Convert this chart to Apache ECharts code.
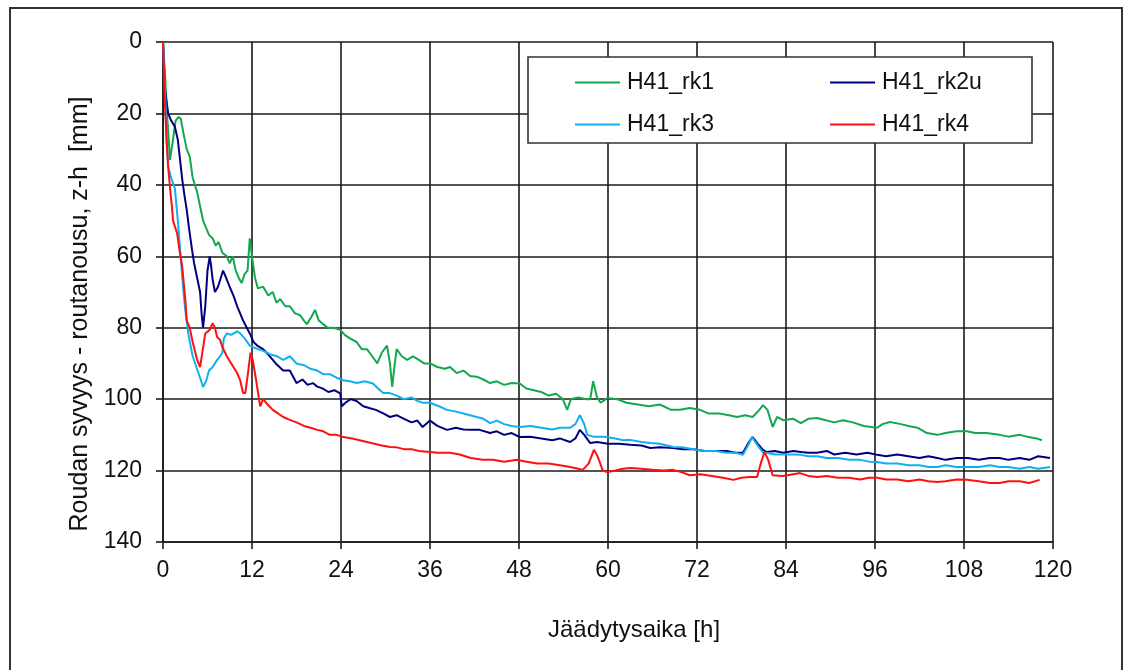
<!DOCTYPE html>
<html>
<head>
<meta charset="utf-8">
<script src="https://cdn.jsdelivr.net/npm/echarts@6/dist/echarts.min.js"></script>
<style>
html,body{margin:0;padding:0;background:#fff;}
#chart{width:1133px;height:670px;}
</style>
</head>
<body>
<div id="chart"></div>
<script>
const seriesNames = ['H41_rk1', 'H41_rk2u', 'H41_rk3', 'H41_rk4'];
const xTicks = [0, 12, 24, 36, 48, 60, 72, 84, 96, 108, 120];
const yTicks = [0, 20, 40, 60, 80, 100, 120, 140];

const rk1 = [[0,0],[0.3,10],[0.6,22],[0.95,33],[1.3,28],[1.7,22],[2.1,21],[2.4,21.5],[2.8,26],[3.2,30],[3.6,32],[4.0,38],[4.3,40],[4.6,42],[5.0,46],[5.4,50],[5.8,52],[6.2,54],[6.7,55],[7.1,57],[7.5,56],[8.0,59],[8.6,60],[9.0,62],[9.4,60],[9.8,64],[10.2,66],[10.6,67.5],[11.0,65],[11.4,64],[11.7,55],[12.0,60],[12.4,66],[12.8,69],[13.5,68.5],[14.2,71],[14.8,70],[15.3,73],[15.8,72],[16.5,74],[17.1,74],[17.8,76],[18.5,76.5],[19.0,78],[19.4,79],[20.0,77],[20.5,75],[21.0,78],[21.6,79],[22.2,80],[23.0,80],[23.9,80.6],[24.5,82],[25.2,83],[26.1,84],[26.8,86],[27.5,86],[28.2,88],[28.9,90],[29.5,87],[30.2,85],[30.6,90],[30.9,96.6],[31.2,91],[31.5,86],[32.2,88],[32.9,89],[33.7,88],[34.5,89],[35.2,90],[36,90],[37,91],[38,91.5],[38.7,91],[39.6,92.7],[40.5,92],[41.4,93.5],[42.3,93.7],[43.2,94.5],[44.1,95.5],[45,95],[46,96],[47,95.5],[48.1,95.6],[49,97],[50,97.5],[51,98],[52,99],[53,98.5],[53.9,100],[54.5,103],[55,100],[56,99.5],[57,100],[57.6,100],[58,95],[58.5,99.4],[59,101],[59.9,99.7],[61.2,100],[62.5,101],[64,101.5],[65.5,102],[67,101.5],[68.5,103],[69.7,103],[71,102.5],[72.4,103],[73.5,104],[75,104],[76.3,104.5],[77.4,105],[78.5,104.5],[79.5,105],[80.4,103],[80.9,101.7],[81.5,103],[82.2,107.8],[82.8,105],[83.6,105.9],[85,105.5],[86,106.7],[87,105.5],[88.2,105.3],[89.5,106],[90.5,106.5],[91.7,105.9],[93,106.5],[94.5,107.5],[96.3,108],[97,107],[98,106.4],[99.5,107],[100.5,107.5],[101.7,108],[103,109.5],[104.4,110],[105.5,109.5],[107,109],[108.4,109],[109.5,109.5],[111,109.5],[112.8,110],[114,110.5],[115.5,110],[116.5,110.5],[117.8,111],[118.5,111.5]];

const rk2u = [[0,0],[0.27,13.4],[0.5,17],[0.7,20],[1.1,22],[1.6,23.7],[2.0,27.4],[2.3,33],[2.6,38.6],[2.9,43],[3.2,47],[3.5,52],[3.9,58],[4.2,62],[4.6,66],[5.0,70],[5.2,76],[5.4,80],[5.7,74],[6.0,64],[6.3,60],[6.5,63],[6.7,66.6],[7.0,70],[7.4,68.6],[7.8,66],[8.1,64],[8.5,66],[9.0,68.6],[9.5,71],[10.0,74],[10.4,76],[10.8,78],[11.3,80],[11.8,82],[12.2,84],[12.7,85],[13.5,86],[14.4,88],[15.2,90],[16.2,92],[17.1,92],[18,95.5],[18.8,94.5],[19.5,96],[20.2,95.5],[20.8,96.5],[21.5,97],[22.3,98],[23.1,97.5],[23.9,98.4],[24.1,102],[24.6,101],[25.3,100],[26.1,100.5],[27,102],[27.8,102.5],[28.7,103],[29.7,104],[30.6,105],[31.5,104.5],[32.5,105.5],[33.5,106.5],[34.3,106],[35,107.8],[36,106],[37,107.5],[38.3,108.6],[39.5,108],[40.5,108.5],[41.4,108.6],[42.7,108.6],[44.1,109.5],[45,109],[46,110],[47,109.5],[48.1,110.6],[49.5,110.5],[51,111],[52.5,111.5],[53.5,111],[54.9,112],[55.6,111],[56.2,108.6],[56.8,110],[57.6,112.3],[58.5,112],[60,112.5],[61.5,112.5],[63,112.8],[64.5,113],[65.7,113.7],[67,113.5],[68.8,113.7],[70,114],[71.5,114],[73,114.5],[74.5,114.5],[76,114.5],[77.2,115],[78.2,115],[79,112],[79.5,110.6],[80.2,112.5],[80.9,114.2],[81.4,114.8],[82.5,114.5],[83.6,115],[85,114.5],[86,114.8],[87,115],[88.2,115],[89.5,114.5],[90.5,115.5],[92,115],[93.5,115.5],[95,115],[96.3,115.6],[97.5,116],[99,115.5],[100.5,116],[102,116.5],[103.2,116],[104.4,116.5],[105.5,117],[107,116.5],[108.5,116.5],[110,117],[111.5,116.5],[112.8,116.5],[114,117],[115.5,116.5],[116.8,117],[118,116],[119.6,116.5]];

const rk3 = [[0,0],[0.3,15],[0.5,28],[0.7,35],[1.1,38],[1.6,41],[2.0,50],[2.3,58],[2.7,68.6],[3.0,75],[3.4,81.6],[4.0,88],[4.5,91],[5.0,94],[5.4,96.6],[5.8,95],[6.2,92],[6.7,91],[7.3,89],[7.7,88],[8.0,87],[8.2,83],[8.6,81.6],[9.2,82],[10.0,81],[10.4,81.6],[11.0,83],[11.7,85],[12.1,85.4],[12.8,86],[13.5,86.5],[14.5,87.5],[15.4,88],[16.2,89],[17.1,88],[18,90],[19,90.5],[19.9,91.5],[20.8,92],[21.6,93],[22.5,93],[23.4,94],[24.3,94.7],[25.2,95],[26.1,95.5],[27.2,95],[28.3,95.6],[29,97],[29.7,98.3],[30.6,98.3],[31.5,99],[32.5,100],[33.5,99.5],[34.3,100.5],[35,101],[36,101],[37.2,102],[38.3,103],[39.5,103.5],[40.5,104],[41.4,104.5],[42.3,105],[43.2,105.5],[44.1,106.7],[45,106],[46,107],[47,107.5],[48.1,107.8],[49.5,107.5],[51,108],[52.5,108.5],[53.5,108],[54.9,108],[55.6,107],[56.2,104.5],[56.8,107],[57.2,110],[58,110.5],[59.5,110.5],[61,111],[62,111.5],[63,111.4],[64.5,112],[65.7,112.3],[67,112.5],[68.8,113.4],[70,113.5],[71.5,114],[73,114.5],[74.5,114.5],[76,115],[77.2,115],[78.2,115.6],[79,112.5],[79.4,110.6],[80.2,113],[80.9,115],[81.4,115],[82.5,115.5],[83.6,115.5],[85,115.5],[86,115.6],[87,116],[88.2,116],[89.5,116.5],[91,116.5],[92.5,117],[94,117],[95.2,117.5],[96.3,117.6],[97.5,118],[99,118],[100.5,118.5],[102,118.5],[103.2,119],[104.4,119],[105.5,118.5],[107,119],[108.5,119],[110,119],[111.5,118.5],[112.8,119],[114,119],[115.5,119.5],[116.8,119],[118,119.5],[119.6,119]];

const rk4 = [[0,0],[0.27,18],[0.5,28],[0.7,35],[1.0,42],[1.2,46],[1.35,50],[1.9,53.5],[2.2,58],[2.6,63],[3.0,72],[3.2,78],[3.6,80],[4.0,84],[4.6,89],[5.0,91],[5.3,87],[5.7,81.6],[6.3,80.6],[6.7,78.7],[7.0,80],[7.3,82.6],[7.7,83.4],[8.0,85.4],[8.6,88],[9.2,90],[10.0,92.7],[10.4,94.7],[10.8,98.3],[11.1,98.3],[11.5,92],[11.8,87],[12.1,89],[12.5,94],[12.8,98],[13.1,102],[13.5,100],[14.1,101.5],[14.8,103],[15.5,104],[16.2,105],[17.1,105.8],[18,106.5],[19,107.5],[19.9,108],[20.8,108.6],[21.6,109],[22.5,110],[23.4,110],[24.3,110.6],[25.5,111],[26.5,111.5],[27.5,112],[28.5,112.5],[29.5,113],[30.6,113.4],[31.5,113.5],[32.5,114],[33.5,114],[34.5,114.5],[36,114.8],[37,115],[37.8,115],[38.7,115],[40,115.5],[41.5,116.5],[43.1,117],[44.5,117],[46,117.5],[47.7,117],[49,117.5],[50.5,118],[52,118],[53.5,118.5],[54.9,119],[56,119.5],[56.6,119.8],[57.4,118],[58.1,114.2],[58.6,116],[59.3,120],[59.9,120.4],[61,120],[62,119.5],[63,119.3],[64.5,119.5],[66,119.8],[67.5,120],[68.8,119.8],[70,120.5],[71,121.3],[72.5,121],[74,121.5],[75.5,122],[76.9,122.6],[78,122],[79.1,121.8],[80.1,121.8],[80.6,118],[81.1,114.8],[81.6,117],[82.2,121.3],[83.5,121.5],[85,121],[85.9,120.7],[87,121.5],[88.2,121.8],[89.5,121.5],[91,122],[92.5,122],[94,122.5],[95.2,122],[96.3,122],[97.5,122.5],[99,122.5],[100.5,123],[102,122.5],[103.2,123],[104.4,123.2],[105.5,123],[107,122.5],[108.4,122.6],[110,123],[111.5,123.5],[112.8,123.5],[114,123],[115.5,123],[116.8,123.5],[118.2,122.6]];

const colors = ['#14a84e', '#00007f', '#10b0f0', '#ff1010'];
const FONT = '"Liberation Sans", Arial, sans-serif';

const chart = echarts.init(document.getElementById('chart'), null, {renderer: 'canvas'});
const mk = (name, data, color) => ({
  name, type: 'line', data, symbol: 'none', showSymbol: false,
  lineStyle: {color, width: 2}, itemStyle: {color}, z: 2, animation: false
});
const legendCommon = {
  orient: 'vertical', top: 71, padding: 0, icon: 'rect',
  itemWidth: 45, itemHeight: 2, itemGap: 19, z: 5,
  textStyle: {fontSize: 23, fontFamily: FONT, color: '#111', padding: [0, 0, 0, 2]}
};
chart.setOption({
  animation: false,
  backgroundColor: '#fff',
  grid: {left: 163, right: 80, top: 42, bottom: 128, containLabel: false},
  xAxis: {
    type: 'value', min: xTicks[0], max: xTicks[xTicks.length - 1], interval: 12,
    axisLine: {show: true, onZero: false, lineStyle: {color: '#1a1a1a', width: 1.6}},
    axisTick: {show: true, inside: false, length: 7, lineStyle: {color: '#1a1a1a', width: 1.6}},
    splitLine: {show: true, lineStyle: {color: '#1a1a1a', width: 1.6}},
    axisLabel: {color: '#111', fontSize: 23, fontFamily: FONT, margin: 17}
  },
  yAxis: {
    type: 'value', inverse: true, min: yTicks[0], max: yTicks[yTicks.length - 1], interval: 20,
    axisLine: {show: true, onZero: false, lineStyle: {color: '#1a1a1a', width: 1.6}},
    axisTick: {show: true, inside: false, length: 7, lineStyle: {color: '#1a1a1a', width: 1.6}},
    splitLine: {show: true, lineStyle: {color: '#1a1a1a', width: 1.6}},
    axisLabel: {color: '#111', fontSize: 23, fontFamily: FONT, margin: 21}
  },
  legend: [
    Object.assign({}, legendCommon, {data: [seriesNames[0], seriesNames[2]], left: 575}),
    Object.assign({}, legendCommon, {data: [seriesNames[1], seriesNames[3]], left: 830})
  ],
  graphic: [
    {type: 'rect', shape: {x: 10, y: 8, width: 1112, height: 700}, z: 1,
     style: {fill: 'none', stroke: '#333', lineWidth: 2}},
    {type: 'rect', shape: {x: 528, y: 57, width: 504, height: 86}, z: 3,
     style: {fill: '#fff', stroke: '#333', lineWidth: 1.6}},
    {type: 'text', x: 80, y: 314, rotation: Math.PI / 2, z: 3,
     style: {text: 'Roudan syvyys - routanousu, z-h  [mm]', fontSize: 25, fontFamily: FONT,
             fill: '#111', align: 'center', verticalAlign: 'middle'}},
    {type: 'text', x: 634, y: 630, z: 3,
     style: {text: 'Jäädytysaika [h]', fontSize: 24, fontFamily: FONT,
             fill: '#111', align: 'center', verticalAlign: 'middle'}}
  ],
  series: [
    mk(seriesNames[0], rk1, colors[0]),
    mk(seriesNames[1], rk2u, colors[1]),
    mk(seriesNames[2], rk3, colors[2]),
    mk(seriesNames[3], rk4, colors[3])
  ]
});
</script>
</body>
</html>
